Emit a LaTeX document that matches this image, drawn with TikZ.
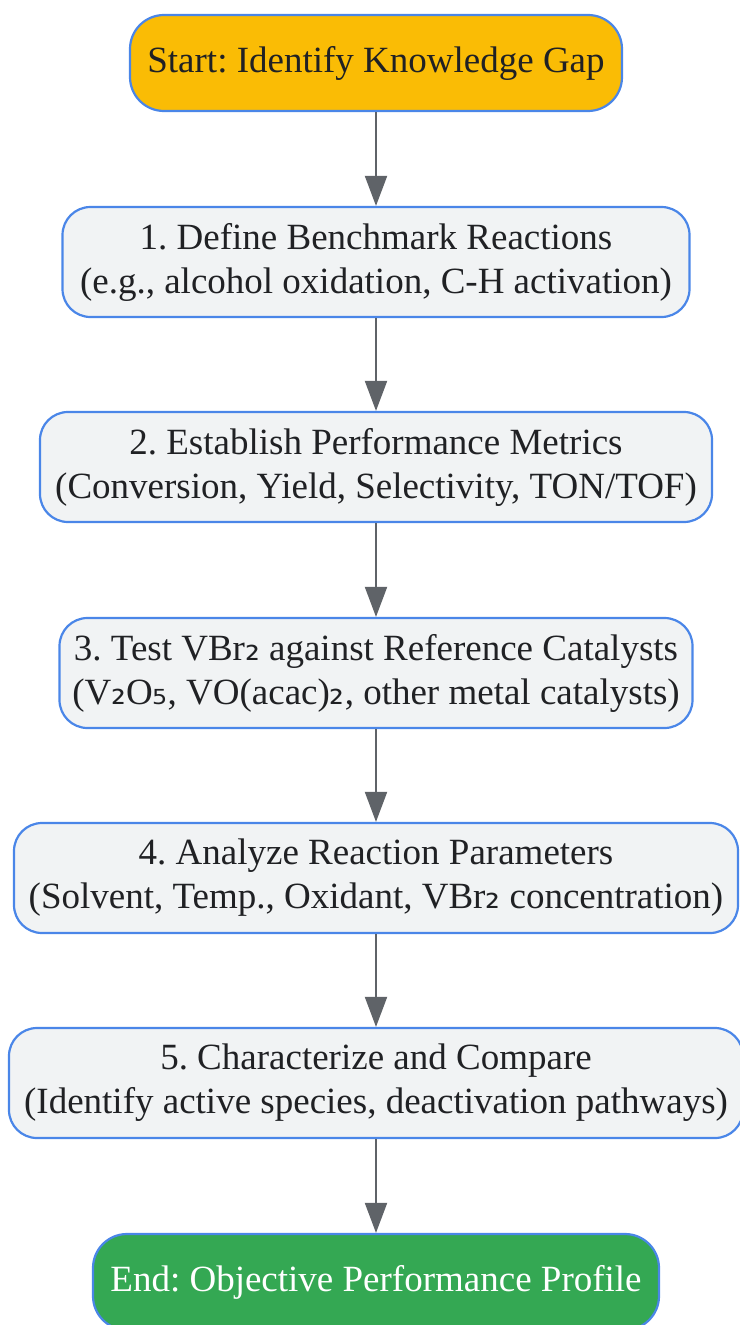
\documentclass[tikz,border=0pt]{standalone}
\usepackage{fontspec}
\setmainfont{Liberation Serif}
\newfontfamily\subfont{DejaVu Sans}
\newcommand\sbs[1]{{\subfont #1}}
\usetikzlibrary{arrows.meta}
\frenchspacing
\definecolor{nodeblue}{HTML}{4A86E8}
\definecolor{nodegray}{HTML}{F1F3F4}
\definecolor{startfill}{HTML}{FABC05}
\definecolor{endfill}{HTML}{34A853}
\definecolor{arrowgray}{HTML}{5F6368}
\definecolor{txt}{HTML}{202124}
\begin{document}
\begin{tikzpicture}[x=1pt,y=-1pt,
  box/.style={draw=nodeblue,line width=2.2pt,rounded corners=28pt,fill=nodegray,
    text=txt,align=center,inner sep=0pt,minimum height=110pt,
    font=\frenchspacing\fontsize{37}{44}\selectfont},
  term/.style={box,minimum height=96pt,rounded corners=34pt},
  flow/.style={draw=arrowgray,line width=2pt,-{Triangle[length=30pt,width=22pt]}}]
\useasboundingbox (0,0) rectangle (739,1325);
\node[term,fill=startfill,minimum width=492pt] (s) at (376,63) {Start: Identify Knowledge Gap};
\node[box,minimum width=627pt] (n1) at (376,262) {1. Define Benchmark Reactions\\(e.g., alcohol oxidation, C-H activation)};
\node[box,minimum width=672pt] (n2) at (376,467) {2. Establish Performance Metrics\\(Conversion, Yield, Selectivity, TON/TOF)};
\node[box,minimum width=633pt] (n3) at (376,673) {3. Test VBr\sbs{₂} against Reference Catalysts\\(V\sbs{₂}O\sbs{₅}, VO(acac)\sbs{₂}, other metal catalysts)};
\node[box,minimum width=724pt] (n4) at (376,878) {4. Analyze Reaction Parameters\\(Solvent, Temp., Oxidant, VBr\sbs{₂} concentration)};
\node[box,minimum width=734pt] (n5) at (376,1083) {5. Characterize and Compare\\(Identify active species, deactivation pathways)};
\node[term,fill=endfill,text=white,minimum width=566pt] (e) at (376,1282) {End: Objective Performance Profile};
\draw[flow] (s) -- (n1);
\draw[flow] (n1) -- (n2);
\draw[flow] (n2) -- (n3);
\draw[flow] (n3) -- (n4);
\draw[flow] (n4) -- (n5);
\draw[flow] (n5) -- (e);
\end{tikzpicture}
\end{document}
